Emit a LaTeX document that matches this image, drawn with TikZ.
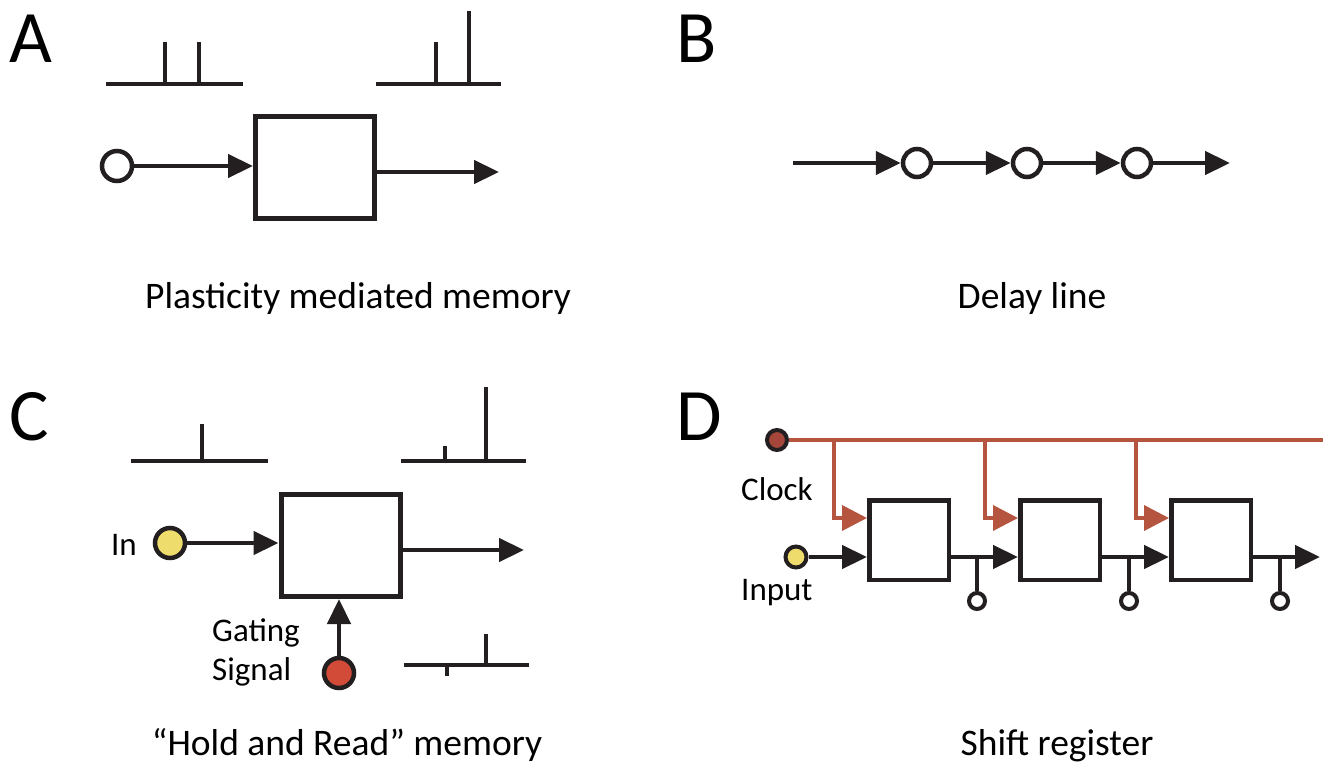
\documentclass[tikz,border=0pt]{standalone}
\usepackage{fontspec}
\setmainfont{Carlito}
\usetikzlibrary{arrows.meta}
\definecolor{ink}{HTML}{231F20}
\definecolor{clk}{HTML}{B5543F}
\definecolor{clkdot}{HTML}{A4463A}
\definecolor{ylw}{HTML}{EEDC6C}
\definecolor{gred}{HTML}{D24A38}

\begin{document}
\begin{tikzpicture}[x=1pt,y=-1pt,line join=miter,
  letter/.style={inner sep=0,anchor=base west,font=\fontsize{74}{80}\selectfont},
  ttl/.style={inner sep=0,anchor=base,font=\fontsize{37.5}{44}\selectfont},
  tag/.style={inner sep=0,font=\fontsize{33}{38}\selectfont},
  blk/.style={draw=ink,line width=5pt,fill=white,inner sep=0,minimum width=119pt,minimum height=102pt},
  reg/.style={draw=ink,line width=4.5pt,fill=white,inner sep=0,minimum size=79.5pt},
  ring/.style={circle,draw=ink,line width=4.5pt,fill=white,inner sep=0,minimum size=30pt},
  dot/.style={circle,draw=ink,line width=4pt,inner sep=0,minimum size=20pt},
  tapring/.style={circle,draw=ink,line width=4pt,fill=white,inner sep=0,minimum size=16pt},
  tip/.style={-{Triangle[length=25pt,width=23pt]}},
  wire/.style={draw=ink,line width=4.5pt},
  train/.style={draw=ink,line width=4.5pt},
  clkwire/.style={draw=clk,line width=3.8pt},
]
\useasboundingbox (0,0) rectangle (1323,763);

% ---------- panel letters ----------
\node[letter] (lA) at (9,62) {A};
\node[letter] (lB) at (676,62) {B};
\node[letter] (lC) at (9,440) {C};
\node[letter] (lD) at (676,440) {D};

% ---------- A: plasticity mediated memory ----------
\draw[train] (106,84) -- (243,84) (165,84) -- (165,42) (199,84) -- (199,42);
\draw[train] (376,84) -- (501,84) (436,84) -- (436,42) (469,84) -- (469,11);
\node[ring] (ain) at (117,166) {};
\node[blk] (abox) at (315,167.5) {};
\coordinate (aout) at (499,172);
\draw[wire,tip] (ain.east) -- (ain.east -| abox.west);
\draw[wire,tip] (abox.east |- aout) -- (aout);
\node[ttl] (tA) at (358,308) {Plasticity mediated memory};

% ---------- B: delay line ----------
\coordinate (b0) at (793,163);
\node[ring,minimum size=28pt] (b1) at (917,163) {};
\node[ring,minimum size=28pt] (b2) at (1027,163) {};
\node[ring,minimum size=28pt] (b3) at (1137,163) {};
\coordinate (b4) at (1230,163);
\draw[wire,tip] (b0) -- (b1.west);
\draw[wire,tip] (b1.east) -- (b2.west);
\draw[wire,tip] (b2.east) -- (b3.west);
\draw[wire,tip] (b3.east) -- (b4);
\node[ttl] (tB) at (1032,308) {Delay line};

% ---------- C: hold and read memory ----------
\draw[train] (131,461) -- (268,461) (202,461) -- (202,424);
\draw[train] (401,461) -- (526,461) (445,461) -- (445,446) (486,461) -- (486,387);
\draw[train] (404,665) -- (529,665) (486,665) -- (486,634) (447,665) -- (447,676);
\node[ring,fill=ylw] (cin) at (170,543) {};
\node[blk] (cbox) at (340.5,545.5) {};
\node[ring,fill=gred] (cgate) at (339,673) {};
\coordinate (cout) at (524,550);
\draw[wire,tip] (cin.east) -- (cin.east -| cbox.west);
\draw[wire,tip] (cbox.east |- cout) -- (cout);
\draw[wire,tip] (cgate.north) -- (cgate.north |- cbox.south);
\node[tag,anchor=base east] (cinl) at (137,555) {In};
\node[tag,anchor=base west] (cg1) at (212,641) {Gating};
\node[tag,anchor=base west] (cg2) at (212,680) {Signal};
\node[ttl] (tC) at (347,755) {“Hold and Read” memory};

% ---------- D: shift register ----------
\node[dot,fill=clkdot] (dclk) at (777,440) {};
\coordinate (bus) at (1323,440);
\draw[clkwire] (dclk.east) -- (bus);
\node[reg] (d1) at (909,540) {};
\node[reg] (d2) at (1060,540) {};
\node[reg] (d3) at (1211,540) {};
\coordinate (k1) at (834,440);
\coordinate (k2) at (985,440);
\coordinate (k3) at (1136,440);
\coordinate (r1) at (834,518);
\coordinate (r2) at (985,518);
\coordinate (r3) at (1136,518);
\draw[clkwire,-{Triangle[length=25pt,width=25pt]}] (k1) -- (r1) -- (r1 -| d1.west);
\draw[clkwire,-{Triangle[length=25pt,width=25pt]}] (k2) -- (r2) -- (r2 -| d2.west);
\draw[clkwire,-{Triangle[length=25pt,width=25pt]}] (k3) -- (r3) -- (r3 -| d3.west);
\node[dot,fill=ylw,minimum size=21pt] (din) at (796,557) {};
\coordinate (dout) at (1320,557);
\draw[wire,tip] (din.east) -- (din.east -| d1.west);
\draw[wire,tip] (d1.east |- din) -- (d2.west |- din);
\draw[wire,tip] (d2.east |- din) -- (d3.west |- din);
\draw[wire,tip] (d3.east |- din) -- (dout);
\node[tapring] (o1) at (977,601) {};
\node[tapring] (o2) at (1129,601) {};
\node[tapring] (o3) at (1280,601) {};
\draw[wire] (o1.north) -- (o1.north |- din);
\draw[wire] (o2.north) -- (o2.north |- din);
\draw[wire] (o3.north) -- (o3.north |- din);
\node[tag,anchor=base west] (dcl) at (741,500) {Clock};
\node[tag,anchor=base west] (dil) at (741,600) {Input};
\node[ttl] (tD) at (1057,755) {Shift register};
\end{tikzpicture}
\end{document}
